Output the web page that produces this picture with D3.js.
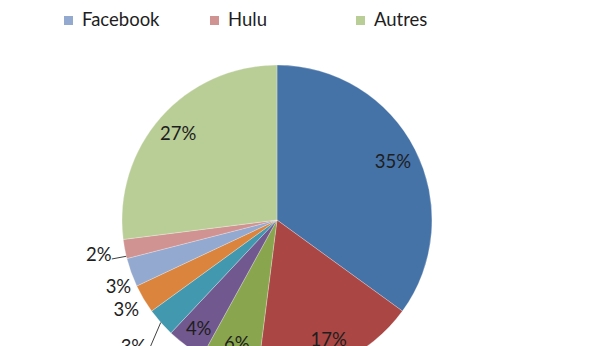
<!DOCTYPE html>
<html><head><meta charset="utf-8">
<script src="https://cdn.jsdelivr.net/npm/d3@7"></script>
<style>body{margin:0;background:#fff}svg{display:block}</style></head>
<body>
<svg id="c" width="616" height="346"></svg>
<script>
// Data
const categories = ["Site 1","Site 2","Site 3","Site 4","Site 5","Site 6","Facebook","Hulu","Autres"];
const values = [35,17,6,4,3,3,3,2,27];
const colors = ["#4572A7","#AA4643","#89A54E","#71588F","#4198AF","#DB843D","#93A9CF","#D19392","#B9CD96"];

// Layout
const cx = 277, cy = 220, R = 155;
const labelRadius = [0.84,0.84,0.84,0.86,1.235,1.13,1.11,1.17,0.85];
const labelAngleShift = [0,0,0,0,0,0,-3,0,0]; // degrees
// leader lines: slice index, fraction across slice for arc end, offset from label center for start
const leaders = [
  {i:4, frac:0.5, off:[17,0]},
  {i:7, frac:0.12, off:[13,5]}
];

const svg = d3.select("#c");
const pie = d3.pie().sort(null).value(d => d)(values);
const arc = d3.arc().innerRadius(0).outerRadius(R);
const g = svg.append("g").attr("transform", `translate(${cx},${cy})`);

g.selectAll("path").data(pie).join("path")
  .attr("d", arc)
  .attr("fill", (d,i) => colors[i])
  .attr("stroke", "rgba(255,255,255,0.45)")
  .attr("stroke-width", 0.6);

const mid = d => (d.startAngle + d.endAngle) / 2;
const pt = (a, r) => [Math.sin(a) * r, -Math.cos(a) * r];
const labelPos = d => pt(mid(d) + labelAngleShift[d.index] * Math.PI / 180, R * labelRadius[d.index]);

// leader lines
g.selectAll("line.leader").data(leaders).join("line")
  .attr("class","leader")
  .each(function(L){
    const d = pie[L.i];
    const c = labelPos(d);
    const e = pt(d.startAngle + (d.endAngle - d.startAngle) * L.frac, R);
    d3.select(this).attr("x1", c[0] + L.off[0]).attr("y1", c[1] + L.off[1])
      .attr("x2", e[0]).attr("y2", e[1]);
  })
  .attr("stroke", "#404040").attr("stroke-width", 1);

g.selectAll("text.lbl").data(pie).join("text")
  .attr("class","lbl")
  .attr("x", d => labelPos(d)[0])
  .attr("y", d => labelPos(d)[1])
  .attr("dy", "0.36em")
  .attr("text-anchor", "middle")
  .attr("font-family", "Lato, 'Open Sans', sans-serif")
  .attr("font-size", 18.5)
  .attr("fill", "#1e1e1e")
  .text(d => d.data + "%");

// Legend (3 columns; earlier rows fall above the visible area)
const colX = [64, 210, 356], rowH = 26, lastRowBaseline = 26;
const nRows = Math.ceil(categories.length / 3);
const leg = svg.selectAll("g.leg").data(categories).join("g")
  .attr("class","leg")
  .attr("transform", (d,i) => {
    const row = Math.floor(i/3), col = i % 3;
    return `translate(${colX[col]},${lastRowBaseline - (nRows - 1 - row) * rowH})`;
  });
leg.append("rect").attr("x", 0).attr("y", -10).attr("width", 9).attr("height", 9)
  .attr("fill", (d,i) => colors[i]);
leg.append("text").attr("x", 18).attr("y", 0)
  .attr("font-family", "Lato, 'Open Sans', sans-serif")
  .attr("font-size", 18.5).attr("fill", "#1e1e1e")
  .text(d => d);
</script>
</body></html>
